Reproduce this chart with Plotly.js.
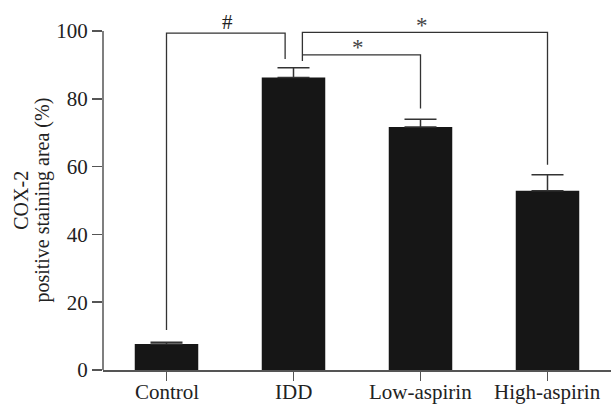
<!DOCTYPE html>
<html>
<head>
<meta charset="utf-8">
<script src="https://cdn.plot.ly/plotly-3.0.1.min.js"></script>
<style>html,body{margin:0;padding:0;background:#fff;}#chart{width:611px;height:411px;}</style>
</head>
<body>
<div id="chart"></div>
<script>
const categories = ["Control", "IDD", "Low-aspirin", "High-aspirin"];
const values = [7.7, 86.3, 71.7, 52.9];
const errors = [0.5, 2.9, 2.3, 4.7];
const yTickValues = [0, 20, 40, 60, 80, 100];
const yTitleLines = ["COX-2", "positive staining area (%)"];
const brackets = [
  {x0: 0, x1: 0.934, top: 99.4, y0: 11.8, y1: 91.8, label: "#", labelX: 0.48, labelY: 102.8},
  {x0: 1.07, x1: 3, top: 99.6, y0: 91.2, y1: 60.6, label: "*", labelX: 2.01, labelY: 101.8},
  {x0: 1.07, x1: 2, top: 93.0, y0: 93.0, y1: 77.2, label: "*", labelX: 1.51, labelY: 95.3}
];

const font = "Liberation Serif";
const ink = "#222";
const lineCol = "#333";

const shapes = [];
const annotations = [];

shapes.push({type: "line", xref: "paper", yref: "y", x0: 0, x1: 0, y0: 0, y1: 100,
  line: {color: "#555", width: 1.5}});

brackets.forEach(b => {
  shapes.push({type: "path", xref: "x", yref: "y",
    path: `M ${b.x0} ${b.y0} L ${b.x0} ${b.top} L ${b.x1} ${b.top} L ${b.x1} ${b.y1}`,
    line: {color: lineCol, width: 1.3}});
  annotations.push({xref: "x", yref: "y", x: b.labelX, y: b.labelY, text: b.label,
    showarrow: false, yanchor: "middle",
    font: {family: font, size: b.label === "#" ? 21 : 23, color: b.label === "#" ? ink : "#444"}});
});

categories.forEach(c => {
  annotations.push({xref: "x", yref: "y", x: c, y: 0, text: c, showarrow: false,
    xanchor: "center", yanchor: "top", yshift: -8,
    font: {family: font, size: 21, color: ink}});
});

annotations.push({xref: "paper", yref: "y", x: -0.163, y: 50, text: yTitleLines[0], textangle: -90,
  showarrow: false, xanchor: "center", yanchor: "middle", font: {family: font, size: 20, color: ink}});
annotations.push({xref: "paper", yref: "y", x: -0.118, y: 50, text: yTitleLines[1], textangle: -90,
  showarrow: false, xanchor: "center", yanchor: "middle", font: {family: font, size: 20, color: ink}});

const trace = {
  type: "bar",
  x: categories,
  y: values,
  width: 0.5,
  marker: {color: "#161616", line: {width: 0}},
  error_y: {type: "data", array: errors, arrayminus: errors.map(() => 0), symmetric: false,
    color: "#333", thickness: 1.5, width: 16},
  hoverinfo: "none"
};

const layout = {
  width: 611, height: 411,
  margin: {l: 103, r: 0, t: 4, b: 41, pad: 0},
  paper_bgcolor: "#fff", plot_bgcolor: "#fff",
  showlegend: false,
  font: {family: font, size: 21, color: ink},
  xaxis: {
    type: "category", range: [-0.5, 3.5],
    showline: true, linecolor: "#555", linewidth: 1.5,
    ticks: "outside", ticklen: 9, tickwidth: 1.5, tickcolor: "#555",
    showticklabels: false,
    showgrid: false, zeroline: false
  },
  yaxis: {
    range: [0, 108],
    tickvals: yTickValues,
    showline: false,
    ticks: "outside", ticklen: 10, tickwidth: 1.5, tickcolor: "#555",
    showgrid: false, zeroline: false,
    tickfont: {family: font, size: 21, color: ink}
  },
  shapes: shapes,
  annotations: annotations
};

Plotly.newPlot("chart", [trace], layout, {staticPlot: true, displayModeBar: false});
</script>
</body>
</html>
